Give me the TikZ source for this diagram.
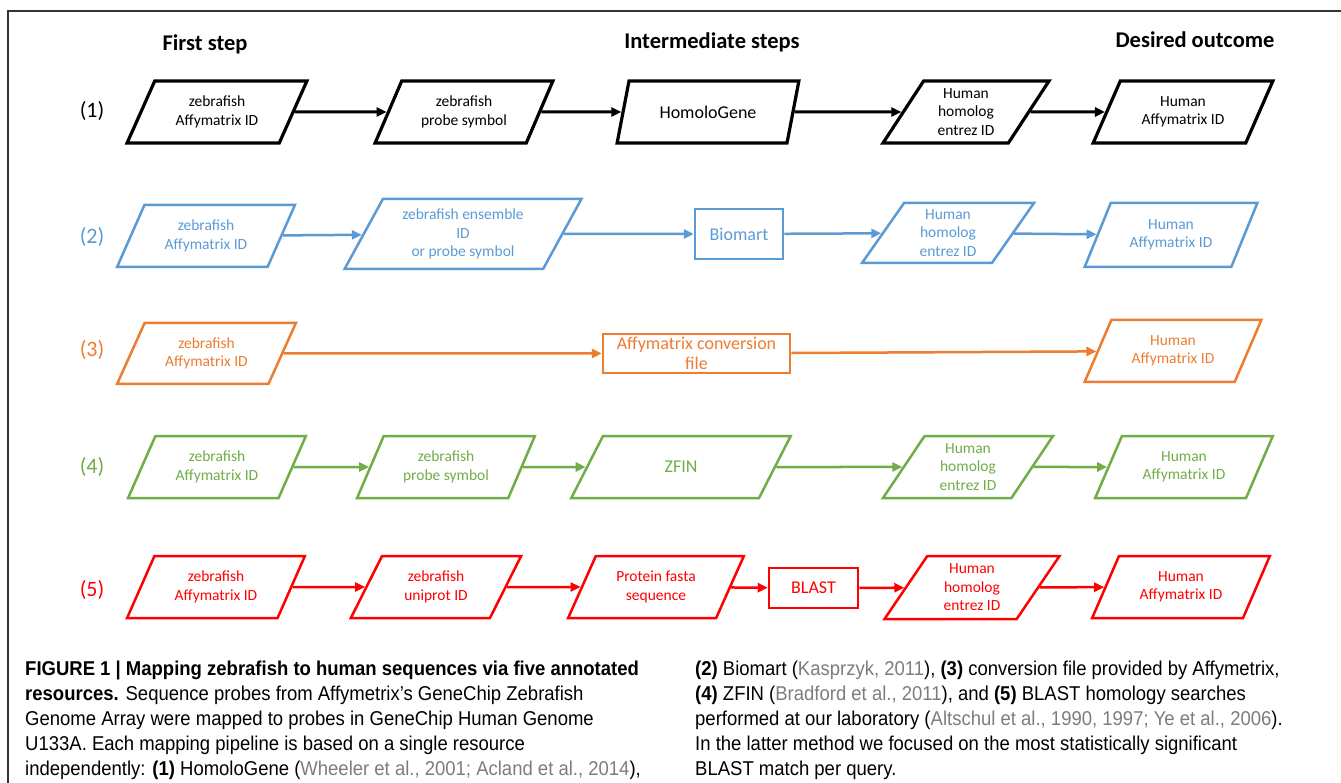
\documentclass[tikz,border=0pt]{standalone}
\usepackage{fontspec}
\setmainfont{Carlito}
\newfontfamily\capfont[FakeStretch=0.925]{Liberation Sans}
\usetikzlibrary{shapes.geometric,arrows.meta}
\definecolor{cblue}{RGB}{91,155,213}
\definecolor{corange}{RGB}{237,125,49}
\definecolor{cgreen}{RGB}{112,173,71}
\definecolor{cred}{RGB}{255,0,0}
\definecolor{cgray}{RGB}{125,125,125}
\begin{document}
\begin{tikzpicture}[x=1pt,y=-1pt,
  para/.style={trapezium, trapezium left angle=60, trapezium right angle=120,
    trapezium stretches=true, draw, line width=2.5pt, inner sep=0pt, align=center,
    minimum height=62pt, font=\fontsize{15.5}{18.5}\selectfont},
  boxn/.style={rectangle, draw, line width=2.5pt, inner sep=0pt, align=center,
    font=\fontsize{18}{20.5}\selectfont},
  arr/.style={-{Triangle[length=10pt,width=9pt]}, line width=2.5pt},
  rowlab/.style={font=\fontsize{22}{26}\selectfont, inner sep=0pt},
  head/.style={font=\bfseries\fontsize{22.5}{27}\selectfont, inner sep=0pt},
  capl/.style={anchor=base west, inner sep=0pt, font=\capfont\fontsize{20}{24}\selectfont},
  cite/.style={text=cgray}
]
\useasboundingbox (0,0) rectangle (1341,783);
\fill[white] (0,0) rectangle (1341,783);
\draw[line width=1.2pt, black!80] (8,783) -- (8,11) -- (1341,11);

% headers
\node[head] (h1) at (205,44) {First step};
\node[head] (h2) at (712,42) {Intermediate steps};
\node[head] (h3) at (1195,40) {Desired outcome};

% row 1 (black)
\begin{scope}[every node/.append style={draw=black, text=black}]
\node[rowlab, draw=none] (l1) at (92,111) {(1)};
\node[para, line width=3.2pt, minimum width=180pt] (a1) at (217,112) {zebrafish\\Affymatrix ID};
\node[para, line width=3.2pt, minimum width=178pt] (b1) at (464,112) {zebrafish\\probe symbol};
\node[para, line width=3.2pt, minimum width=182pt, font=\fontsize{18}{20}\selectfont] (c1) at (708,112) {HomoloGene};
\node[para, line width=3.2pt, minimum width=166pt] (d1) at (966,112) {Human\\homolog\\entrez ID};
\node[para, line width=3.2pt, minimum width=180pt] (e1) at (1183,112) {Human\\Affymatrix ID};
\end{scope}
\draw[arr, line width=3pt, black] (a1) -- (b1);
\draw[arr, line width=3pt, black] (b1) -- (c1);
\draw[arr, line width=3pt, black] (c1) -- (d1);
\draw[arr, line width=3pt, black] (d1) -- (e1);

% row 2 (blue)
\begin{scope}[every node/.append style={draw=cblue, text=cblue}]
\node[rowlab, draw=none] (l2) at (92,237) {(2)};
\node[para, minimum width=178pt] (a2) at (206,236) {zebrafish\\Affymatrix ID};
\node[para, minimum width=237pt, minimum height=70pt] (b2) at (463,234) {zebrafish ensemble\\ID\\or probe symbol};
\node[boxn, minimum width=88pt, minimum height=50pt] (m2) at (739,234) {Biomart};
\node[para, minimum width=172pt, minimum height=60pt] (d2) at (948,233) {Human\\homolog\\entrez ID};
\node[para, minimum width=173pt, minimum height=64pt] (e2) at (1171,235) {Human\\Affymatrix ID};
\end{scope}
\draw[arr, cblue] (a2) -- (b2);
\draw[arr, cblue] (b2) -- (m2);
\draw[arr, cblue] (m2) -- (d2);
\draw[arr, cblue] (d2) -- (e2);

% row 3 (orange)
\begin{scope}[every node/.append style={draw=corange, text=corange}]
\node[rowlab, draw=none] (l3) at (92,350) {(3)};
\node[para, minimum width=179pt, minimum height=61pt] (a3) at (206.5,353.5) {zebrafish\\Affymatrix ID};
\node[boxn, minimum width=187pt, minimum height=39pt] (m3) at (696.5,353.5) {Affymatrix conversion\\file};
\node[para, minimum width=177pt] (e3) at (1173,351) {Human\\Affymatrix ID};
\end{scope}
\draw[arr, corange] (a3) -- (m3);
\draw[arr, corange] (m3) -- (e3);

% row 4 (green)
\begin{scope}[every node/.append style={draw=cgreen, text=cgreen}]
\node[rowlab, draw=none] (l4) at (92,467) {(4)};
\node[para, minimum width=178pt] (a4) at (217,467) {zebrafish\\Affymatrix ID};
\node[para, minimum width=178pt] (b4) at (446,467) {zebrafish\\probe symbol};
\node[para, minimum width=220pt, font=\fontsize{18}{20}\selectfont] (c4) at (681,467) {ZFIN};
\node[para, minimum width=170pt] (d4) at (968,467) {Human\\homolog\\entrez ID};
\node[para, minimum width=178pt] (e4) at (1184,467) {Human\\Affymatrix ID};
\end{scope}
\draw[arr, cgreen] (a4) -- (b4);
\draw[arr, cgreen] (b4) -- (c4);
\draw[arr, cgreen] (c4) -- (d4);
\draw[arr, cgreen] (d4) -- (e4);

% row 5 (red)
\begin{scope}[every node/.append style={draw=cred, text=cred}]
\node[rowlab, draw=none] (l5) at (92,590) {(5)};
\node[para, minimum width=178pt] (a5) at (216,587) {zebrafish\\Affymatrix ID};
\node[para, minimum width=172pt] (b5) at (436,587) {zebrafish\\uniprot ID};
\node[para, minimum width=176pt] (c5) at (656,587) {Protein fasta\\sequence};
\node[boxn, minimum width=89pt, minimum height=40pt] (m5) at (813.5,588) {BLAST};
\node[para, minimum width=175pt, minimum height=63pt] (d5) at (972,587.5) {Human\\homolog\\entrez ID};
\node[para, minimum width=178pt] (e5) at (1181,587) {Human\\Affymatrix ID};
\end{scope}
\draw[arr, cred] (a5) -- (b5);
\draw[arr, cred] (b5) -- (c5);
\draw[arr, cred] (c5) -- (m5);
\draw[arr, cred] (m5) -- (d5);
\draw[arr, cred] (d5) -- (e5);

% caption, left column
\node[capl] (t1) at (25,675) {\bfseries FIGURE 1 | Mapping zebrafish to human sequences via five annotated};
\node[capl] (t2) at (25,700) {\textbf{resources.} Sequence probes from Affymetrix’s GeneChip Zebrafish};
\node[capl] (t3) at (25,725) {Genome Array were mapped to probes in GeneChip Human Genome};
\node[capl] (t4) at (25,750) {U133A. Each mapping pipeline is based on a single resource};
\node[capl] (t5) at (25,775) {independently: \textbf{(1)} HomoloGene ({\color{cgray}Wheeler et al., 2001; Acland et al., 2014}),};
% caption, right column
\node[capl] (u1) at (695,675) {\textbf{(2)} Biomart ({\color{cgray}Kasprzyk, 2011}), \textbf{(3)} conversion file provided by Affymetrix,};
\node[capl] (u2) at (695,700) {\textbf{(4)} ZFIN ({\color{cgray}Bradford et al., 2011}), and \textbf{(5)} BLAST homology searches};
\node[capl] (u3) at (695,725) {performed at our laboratory ({\color{cgray}Altschul et al., 1990, 1997; Ye et al., 2006}).};
\node[capl] (u4) at (695,750) {In the latter method we focused on the most statistically significant};
\node[capl] (u5) at (695,775) {BLAST match per query.};
\end{tikzpicture}
\end{document}
